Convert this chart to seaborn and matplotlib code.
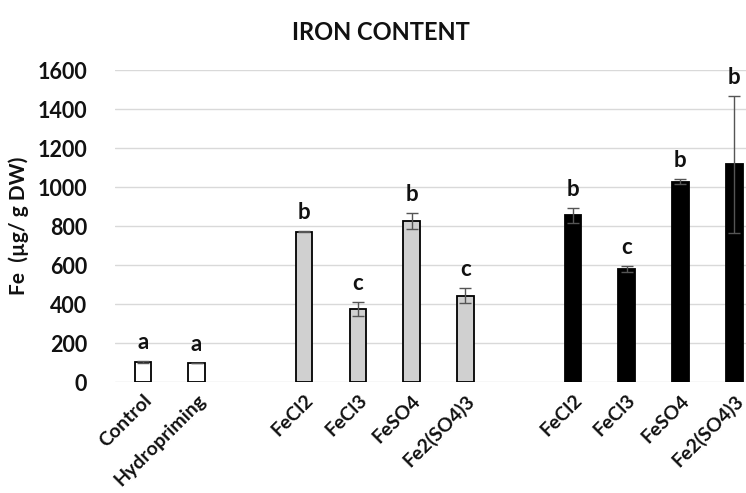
import numpy as np
import pandas as pd
import matplotlib
matplotlib.use("Agg")
import matplotlib.pyplot as plt
import seaborn as sns

# ---- data ----
labels_ctrl = ["Control", "Hydropriming"]
labels_gray = ["FeCl2", "FeCl3", "FeSO4", "Fe2(SO4)3"]
labels_black = ["FeCl2", "FeCl3", "FeSO4", "Fe2(SO4)3"]

vals_ctrl = [103, 98]
err_ctrl = [4, 2]
vals_gray = [772, 375, 826, 443]
err_gray = [3, 34, 40, 40]
vals_black = [856, 580, 1027, 1117]
err_black = [38, 16, 13, 352]

letters_ctrl = ["a", "a"]
letters_gray = ["b", "c", "b", "c"]
letters_black = ["b", "c", "b", "b"]

yticks = [0, 200, 400, 600, 800, 1000, 1200, 1400, 1600]

sns.set_theme(style="white")
plt.rcParams["font.family"] = ["Lato", "DejaVu Sans"]

# positions: groups separated by one empty slot
groups = [("ctrl", labels_ctrl, vals_ctrl, err_ctrl, letters_ctrl),
          ("gray", labels_gray, vals_gray, err_gray, letters_gray),
          ("black", labels_black, vals_black, err_black, letters_black)]
rows = []
pos = 0
for g, labs, vals, errs, lets in groups:
    for l, v, e, t in zip(labs, vals, errs, lets):
        rows.append(dict(pos=pos, group=g, label=l, fe=v, err=e, letter=t))
        pos += 1
    pos += 1
df = pd.DataFrame(rows)

fig = plt.figure(figsize=(7.46, 4.93), dpi=100)
ax = fig.add_axes([0.154, 0.225, 0.846, 0.633])

palette = {"ctrl": "white", "gray": "#d0d0d0", "black": "black"}
sns.barplot(data=df, x="pos", y="fe", hue="group", palette=palette,
            native_scale=True, dodge=False, width=0.31, edgecolor="black",
            linewidth=1.3, legend=False, errorbar=None, ax=ax, zorder=3,
            saturation=1)

ax.errorbar(df["pos"], df["fe"], yerr=df["err"], fmt="none", ecolor="#555555",
            elinewidth=1.0, capsize=4, capthick=1.0, zorder=4)

for _, r in df.iterrows():
    ax.text(r["pos"], r["fe"] + r["err"] + 95, r["letter"], ha="center", va="center",
            fontsize=16, fontweight="bold", color="#111111", clip_on=False)

ax.set_ylim(0, 1600)
ax.set_xlim(-0.52, 11.22)
ax.set_yticks(yticks)
ax.set_yticklabels([str(t) for t in yticks], fontsize=15.5, fontweight="bold", color="#111111")
ax.set_xticks(df["pos"])
ax.set_xticklabels(df["label"], rotation=45, ha="right", rotation_mode="anchor",
                   fontsize=14, fontweight="bold", color="#111111")
ax.tick_params(axis="x", length=0, pad=7)
ax.tick_params(axis="y", length=0, pad=20)
ax.grid(axis="y", color="#d9d9d9", linewidth=1.0, zorder=0)
ax.set_axisbelow(True)
for s in ax.spines.values():
    s.set_visible(False)
ax.set_xlabel("")
ax.set_ylabel("Fe  (µg/ g DW)", fontsize=15, fontweight="bold", color="#111111", labelpad=6)

fig.text(0.51, 0.935, "IRON CONTENT", ha="center", va="center", fontsize=17,
         fontweight="bold", color="#111111")

fig.savefig("out.png", dpi=100)
